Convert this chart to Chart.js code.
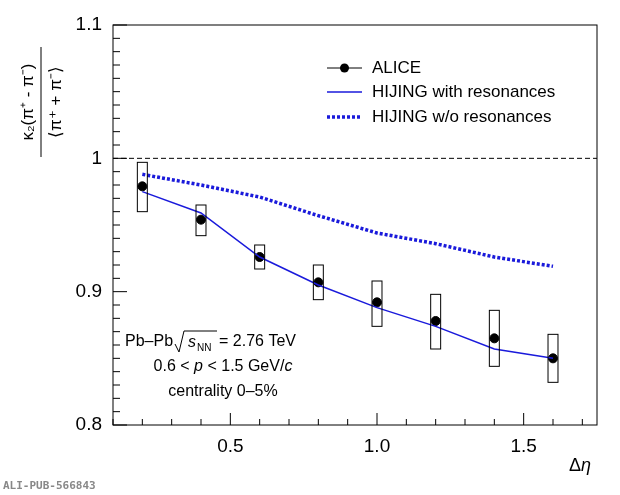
<!DOCTYPE html>
<html><head><meta charset="utf-8">
<script src="https://cdn.jsdelivr.net/npm/chart.js@4/dist/chart.umd.min.js"></script>
<style>body{margin:0;background:#fff}#w{width:620px;height:495px}</style>
</head><body><div id="w"><canvas id="c"></canvas></div>
<script>
const deta = [0.2,0.4,0.6,0.8,1.0,1.2,1.4,1.6];
const alice = [0.979,0.954,0.926,0.907,0.892,0.878,0.865,0.850];
const sysLow = [0.960,0.942,0.917,0.894,0.874,0.857,0.844,0.832];
const sysHigh = [0.997,0.965,0.935,0.920,0.908,0.898,0.886,0.868];
const hijingRes = [0.975,0.959,0.926,0.905,0.888,0.874,0.857,0.850];
const hijingNoRes = [0.988,0.980,0.971,0.957,0.944,0.936,0.926,0.919];
const F = "Liberation Sans, Arial, sans-serif";

function seq(c,x,y,parts){ // parts: [font,text]
  let w=0; parts.forEach(p=>{c.font=p[0];w+=c.measureText(p[1]).width;});
  let cx=x-w/2; c.textAlign='left';
  parts.forEach(p=>{c.font=p[0];c.fillText(p[1],cx,y);cx+=c.measureText(p[1]).width;});
}
const deco = {
  id:'deco',
  afterDatasetsDraw(ch){
    const c=ch.ctx, x=ch.scales.x, y=ch.scales.y, a=ch.chartArea;
    c.save();
    c.strokeStyle='#000'; c.lineWidth=1; c.setLineDash([5,3]);
    c.beginPath(); c.moveTo(a.left,y.getPixelForValue(1)); c.lineTo(a.right,y.getPixelForValue(1)); c.stroke();
    c.setLineDash([]);
    deta.forEach((d,i)=>{
      const x0=x.getPixelForValue(d-0.017), x1=x.getPixelForValue(d+0.017);
      const y0=y.getPixelForValue(sysHigh[i]), y1=y.getPixelForValue(sysLow[i]);
      c.strokeRect(x0,y0,x1-x0,y1-y0);
    });
    c.strokeRect(a.left,a.top,a.right-a.left,a.bottom-a.top);
    for(let v=0.1;v<=1.751;v+=0.1){const p=x.getPixelForValue(v);const big=Math.abs(v*2-Math.round(v*2))<1e-6;
      c.beginPath();c.moveTo(p,a.bottom);c.lineTo(p,a.bottom-(big?12:6));c.stroke();}
    for(let v=0.8;v<=1.1001;v+=0.01){const p=y.getPixelForValue(v);const big=Math.abs(v*10-Math.round(v*10))<1e-6;
      c.beginPath();c.moveTo(a.left,p);c.lineTo(a.left+(big?14:7),p);c.stroke();}
    c.font='17px '+F; c.fillStyle='#000'; c.textBaseline='middle';
    const lx=327, rx=362;
    c.beginPath();c.moveTo(lx,68);c.lineTo(rx,68);c.stroke();
    c.beginPath();c.arc((lx+rx)/2,68,4.5,0,7);c.fill();
    c.textAlign='left';
    c.fillText('ALICE',372,68);
    c.strokeStyle='#1a1adb';c.lineWidth=1.5;
    c.beginPath();c.moveTo(lx,92);c.lineTo(rx,92);c.stroke();
    c.fillText('HIJING with resonances',372,92);
    c.lineWidth=3.5;c.setLineDash([3,2]);
    c.beginPath();c.moveTo(lx,117);c.lineTo(rx,117);c.stroke();c.setLineDash([]);
    c.fillText('HIJING w/o resonances',372,117);
    c.textAlign='left';
    c.font='16px '+F;
    c.fillText('Pb–Pb',125,342);
    c.strokeStyle='#000';c.lineWidth=1;
    c.beginPath();c.moveTo(175,344);c.lineTo(179,352);c.lineTo(184,331);c.lineTo(217,331);c.stroke();
    c.font='italic 16px '+F;c.fillText('s',188,343);
    c.font='10px '+F;c.fillText('NN',197,348);
    c.font='16px '+F;c.fillText('= 2.76 TeV',219,342);
    seq(c,223,367,[['16px '+F,'0.6 < '],['italic 16px '+F,'p'],['16px '+F,' < 1.5 GeV/'],['italic 16px '+F,'c']]);
    c.textAlign='center';c.font='16px '+F;c.fillText('centrality 0–5%',223,392);
    seq(c,580,466,[['18px '+F,'Δ'],['italic 18px '+F,'η']]);
    c.save();c.translate(38,102);c.rotate(-Math.PI/2);c.textAlign='center';
    c.font='17px '+F;c.fillText('κ₂(π⁺ - π⁻)',0,-10);
    c.beginPath();c.moveTo(-55,3);c.lineTo(55,3);c.stroke();
    c.fillText('⟨π⁺ + π⁻⟩',0,18);
    c.restore();
    c.textAlign='left';c.font='bold 11px DejaVu Sans Mono';c.fillStyle='#888';c.fillText('ALI-PUB-566843',3,486);
    c.restore();
  }
};
new Chart(document.getElementById('c'),{
  type:'scatter',
  data:{datasets:[
    {data:deta.map((d,i)=>({x:d,y:hijingRes[i]})),showLine:true,borderColor:'#1a1adb',borderWidth:1.5,pointRadius:0},
    {data:deta.map((d,i)=>({x:d,y:hijingNoRes[i]})),showLine:true,borderColor:'#1a1adb',borderWidth:3.5,borderDash:[3,2],pointRadius:0},
    {data:deta.map((d,i)=>({x:d,y:alice[i]})),backgroundColor:'#000',borderColor:'#000',pointRadius:4.5}
  ]},
  options:{responsive:true,maintainAspectRatio:false,animation:false,
    layout:{padding:{left:0,right:23,top:25,bottom:0}},
    plugins:{legend:{display:false},tooltip:{enabled:false}},
    scales:{
      x:{min:0.1,max:1.75,grid:{display:false},border:{display:false},
        afterFit(s){s.height=70},
        ticks:{font:{size:19,family:F},color:'#000',padding:2,autoSkip:false},
        afterBuildTicks(s){s.ticks=[0.5,1,1.5].map(v=>({value:v}))}},
      y:{min:0.8,max:1.1,grid:{display:false},border:{display:false},
        afterFit(s){s.width=113},
        afterBuildTicks(s){s.ticks=[0.8,0.9,1,1.1].map(v=>({value:v}))},
        ticks:{font:{size:19,family:F},color:'#000',callback:v=>String(Math.round(v*10)/10)}}
    }},
  plugins:[deco]
});
</script></body></html>
